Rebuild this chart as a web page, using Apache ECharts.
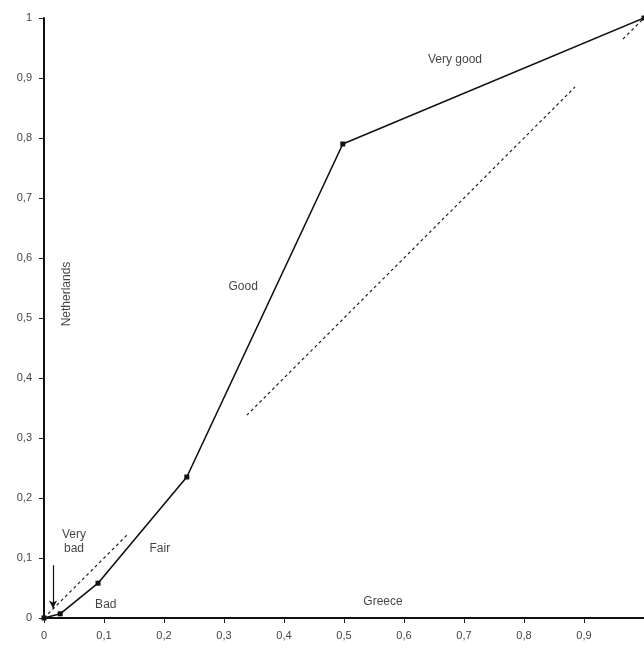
<!DOCTYPE html>
<html><head><meta charset="utf-8">
<script src="https://cdn.jsdelivr.net/npm/echarts@6/dist/echarts.min.js"></script>
<style>html,body{margin:0;padding:0;background:#fff}#c{width:644px;height:658px}</style>
</head><body><div id="c"></div>
<script>
// Curve points (Greece share on x, Netherlands share on y)
const curveX = [0, 0.027, 0.09, 0.238, 0.498, 1];
const curveY = [0, 0.007, 0.058, 0.235, 0.79, 1];
// Diagonal reference (visible pieces)
const diagX = [0, 0.14, null, 0.338, 0.885, null, 0.965, 1];
const diagY = [0, 0.14, null, 0.338, 0.885, null, 0.965, 1];
// Tick labels
const tickVals = [0, 0.1, 0.2, 0.3, 0.4, 0.5, 0.6, 0.7, 0.8, 0.9, 1];
const tickLabels = ['0', '0,1', '0,2', '0,3', '0,4', '0,5', '0,6', '0,7', '0,8', '0,9', '1'];
// Category annotations
const noteText = ['Very good', 'Good', 'Fair', 'Very\nbad', 'Bad', 'Greece'];
const noteX = [0.685, 0.332, 0.193, 0.05, 0.103, 0.565];
const noteY = [0.93, 0.552, 0.115, 0.127, 0.022, 0.027];
const yTitle = 'Netherlands';
const yTitlePos = [0.038, 0.54];
const arrowFrom = [0.015, 0.088];
const arrowTo = [0.015, 0.016];

const fmt = v => { const i = tickVals.findIndex(t => Math.abs(t - v) < 1e-9); return i >= 0 ? tickLabels[i] : ''; };
const zip = (a, b) => a.map((v, i) => v === null ? [null, null] : [v, b[i]]);
const font = 'Liberation Sans, Arial, sans-serif';

const chart = echarts.init(document.getElementById('c'));
chart.setOption({
  animation: false,
  backgroundColor: '#fff',
  grid: { left: 44, right: 0, top: 18, bottom: 40, containLabel: false },
  xAxis: {
    type: 'value', min: 0, max: 1, interval: 0.1,
    axisLine: { lineStyle: { color: '#111', width: 2 } },
    axisTick: { show: true, length: 5, lineStyle: { color: '#222' } },
    axisLabel: { formatter: fmt, color: '#444', fontFamily: font, fontSize: 11, margin: 12, showMaxLabel: false },
    splitLine: { show: false }
  },
  yAxis: {
    type: 'value', min: 0, max: 1, interval: 0.1,
    axisLine: { show: true, lineStyle: { color: '#111', width: 2 } },
    axisTick: { show: true, length: 5, lineStyle: { color: '#222' } },
    axisLabel: { formatter: fmt, color: '#444', fontFamily: font, fontSize: 11, margin: 12 },
    splitLine: { show: false }
  },
  series: [
    {
      type: 'line', data: zip(diagX, diagY), symbol: 'none', connectNulls: false,
      lineStyle: { color: '#222', width: 1.2, type: [3, 3] }, z: 1
    },
    {
      type: 'line', data: zip(curveX, curveY), symbol: 'rect', symbolSize: 5,
      itemStyle: { color: '#111' },
      lineStyle: { color: '#111', width: 1.6 }, z: 3,
      markLine: {
        silent: true, symbol: ['none', 'arrow'], symbolSize: [6, 8],
        lineStyle: { color: '#111', width: 1.2, type: 'solid' },
        label: { show: false },
        data: [[{ coord: arrowFrom }, { coord: arrowTo }]]
      }
    },
    {
      type: 'scatter', symbolSize: 0, silent: true, z: 4,
      data: noteText.map((t, i) => ({ value: [noteX[i], noteY[i]], name: t })),
      label: { show: true, position: 'inside', formatter: p => p.name, color: '#111',
        fontFamily: font, fontSize: 12, lineHeight: 14 }
    },
    {
      type: 'scatter', symbolSize: 0, silent: true, z: 4,
      data: [{ value: yTitlePos, name: yTitle }],
      label: { show: true, position: 'inside', rotate: 90, formatter: p => p.name, color: '#111',
        fontFamily: font, fontSize: 12 }
    }
  ]
});
</script></body></html>
